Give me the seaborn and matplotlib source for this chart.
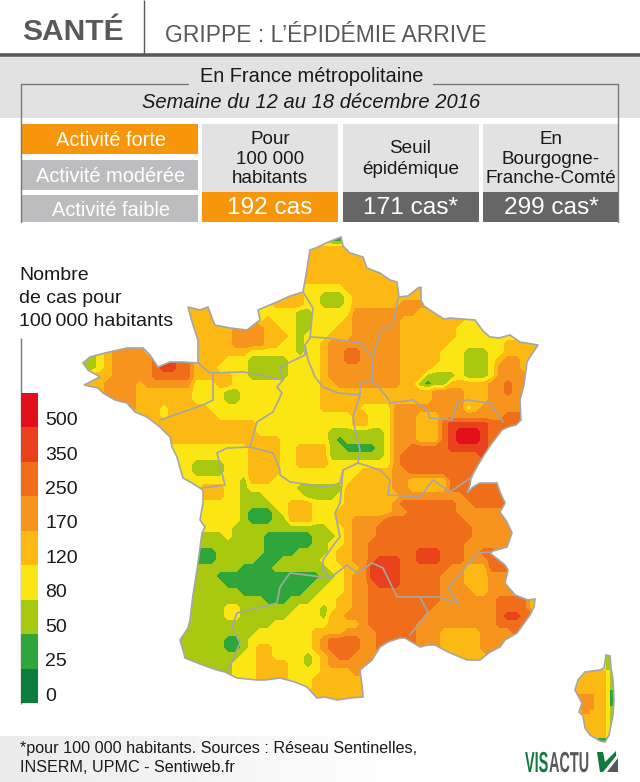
import numpy as np
import matplotlib
matplotlib.use('Agg')
import matplotlib.pyplot as plt
from matplotlib.colors import ListedColormap
from matplotlib.patches import Rectangle, Polygon
from matplotlib.patheffects import AbstractPathEffect
from matplotlib.transforms import Affine2D
import seaborn as sns

# classes du plus faible (0) au plus fort (8)
CLASS_COLORS = ['#0b7d3e', '#2fa63c', '#a8c90f', '#fbe512', '#fdb913',
                '#f7941d', '#f06e19', '#e8411c', '#e3101c']
LEGEND_LABELS = ['500', '350', '250', '170', '120', '80', '50', '25', '0']
LEGEND_TITLE = ['Nombre', 'de cas pour', '100\u2009000 habitants']

ACTIVITY_LABELS = ['Activité forte', 'Activité modérée', 'Activité faible']
ACTIVITY_COLORS = ['#f7960a', '#bdbdbf', '#bdbdbf']
BOX_HEADERS = ['Pour\n100 000\nhabitants', 'Seuil\népidémique', 'En\nBourgogne-\nFranche-Comté']
BOX_VALUES = ['192 cas', '171 cas*', '299 cas*']
BOX_COLORS = ['#f7960a', '#666666', '#666666']

# carte : symbole + longueur de la suite, une ligne par rangée
MAP_ROWS = [
    ".29 22 12",
    ".29 45",
    ".29 47",
    ".29 47",
    ".28 410",
    ".28 412",
    ".28 35 47 .2 41",
    ".27 41 32 23 31 49",
    ".14 42 .9 43 32 23 31 46 53",
    ".14 42 .6 35 22 35 58 42",
    ".14 43 .6 41 33 22 34 41 56 47",
    ".15 44 54 42 32 22 33 42 56 47 33",
    ".15 44 54 43 31 21 33 43 56 47 37",
    ".15 44 54 42 32 21 32 41 59 46 37 44",
    ".5 53 41 .6 46 36 21 32 41 52 62 55 45 33 23 32 43",
    ".1 21 31 41 55 61 .5 43 33 25 34 41 52 62 55 45 33 23 31 41 52 41",
    ".1 21 31 41 55 61 72 62 43 34 25 34 41 59 44 34 23 31 53 41",
    ".1 43 55 65 45 32 25 34 41 59 43 24 31 23 31 54",
    ".2 41 54 41 56 33 42 311 42 58 42 21 11 22 45 52 61 51",
    ".3 54 47 34 22 310 414 54 43 52 61 51",
    ".5 52 47 34 22 310 414 54 43 54",
    ".7 43 31 45 314 45 34 59 31 41 55",
    ".9 41 31 46 317 42 33 53 43 58 62",
    ".10 412 312 42 33 53 43 61 75 63",
    ".11 411 39 27 31 53 43 61 71 83 71 62",
    ".12 413 36 21 11 25 31 53 43 61 71 83 71 61",
    ".12 39 44 32 44 22 14 21 31 52 65 75",
    ".12 39 44 32 44 27 31 51 610",
    ".13 31 24 33 44 32 44 38 51 610",
    ".13 31 24 33 44 310 44 52 69",
    ".14 36 21 43 310 45 52 45 63 .1 63",
    ".15 43 32 21 36 26 46 52 45 63 .1 63",
    ".15 43 32 23 34 31 24 31 47 58 65",
    ".15 35 24 32 43 34 46 51 67 52 64",
    ".15 35 21 13 21 31 43 33 47 52 66 56",
    ".15 35 21 13 22 43 33 42 54 610 55",
    ".15 34 212 32 41 53 612 55",
    ".15 23 31 24 16 23 31 41 53 612 55",
    ".15 28 16 22 32 41 52 612 56",
    ".15 12 26 14 24 31 42 52 66 73 63 52 62",
    ".15 12 25 13 25 32 42 52 61 73 62 73 63 53 62",
    ".15 25 14 27 32 42 51 74 66 52 43 63",
    ".15 22 113 22 31 41 52 74 65 53 43 53",
    ".15 23 111 22 32 41 52 61 73 65 53 43 53",
    ".15 25 18 22 33 41 52 69 54 42 53",
    ".14 29 13 23 33 42 52 69 57 64 41",
    ".14 24 32 27 33 21 31 42 52 68 58 64",
    ".14 24 32 26 34 21 42 53 67 59 61 72 61",
    ".13 211 37 44 51 66 510 63",
    ".13 29 37 44 54 65 53 45 54",
    ".13 25 12 21 38 41 51 64 52 61 .3 61 53 45 53",
    ".13 25 12 21 31 42 35 41 51 64 52 .6 52 45 52",
    ".14 26 32 42 34 21 31 41 51 62 53 .10 44",
    ".16 23 33 44 32 21 31 41 55 .13 41",
    ".18 21 33 44 34 44 52",
    ".22 44 33 47",
    ".29 47",
    ".30 46",
]

CORSICA_ROWS = [
    ".7 31 21", ".7 31 21", ".7 31 21", ".7 31 21",
    ".3 45 31 21", ".2 46 31 21", ".2 46 31 21", ".1 47 31 21",
    ".1 47 31 21", ".1 47 31 11", ".1 54 43 31 11", ".1 54 43 31 11",
    ".1 54 43 31 11", ".1 54 43 31 21", ".1 41 52 44 31 21", ".2 46 31 21",
    ".2 46 31 21", ".2 46 31 21", ".3 45 31 21", ".3 45 31",
    ".3 31 44 31", ".5 21 12",
]

# contours relevés en pixels sur l'image
FRANCE_COAST = [
    (318, 247), (326, 243), (341, 237), (343, 246), (350, 253), (363, 257), (367, 268), (380, 273),
    (390, 280), (397, 282), (399, 297), (408, 296), (418, 288), (421, 287), (421, 300), (424, 306),
    (436, 314), (444, 319), (450, 318), (462, 319), (475, 320), (483, 331), (490, 337), (499, 338),
    (510, 335), (520, 342), (538, 345), (530, 357), (527, 362), (524, 385), (520, 400), (521, 420),
    (516, 425), (508, 427), (502, 430), (492, 443), (484, 455), (478, 465), (471, 478), (470, 485),
    (467, 493), (473, 487), (480, 483), (497, 483), (500, 492), (505, 503), (500, 512), (507, 522),
    (512, 533), (507, 547), (493, 551), (490, 553), (505, 565), (508, 570), (505, 583), (515, 595),
    (528, 600), (535, 599), (534, 607), (530, 615), (517, 633), (505, 640), (500, 647), (490, 652),
    (480, 660), (467, 660), (448, 652), (435, 645), (428, 645), (420, 647), (405, 638), (400, 638),
    (388, 642), (380, 647), (372, 660), (360, 670), (362, 685), (363, 697), (350, 698), (337, 700),
    (325, 697), (317, 698), (307, 687), (295, 682), (280, 678), (265, 680), (257, 680), (237, 678),
    (225, 672), (217, 670), (200, 664), (185, 658), (183, 650), (180, 640), (188, 628), (190, 620),
    (193, 595), (197, 570), (202, 533), (205, 527), (200, 520), (203, 503), (203, 490), (192, 483),
    (183, 478), (180, 468), (177, 457), (172, 447), (170, 437), (160, 427), (147, 417), (135, 412),
    (127, 403), (115, 400), (103, 393), (98, 388), (84, 385), (100, 377), (88, 370), (83, 363),
    (90, 357), (105, 353), (127, 348), (143, 348), (150, 355), (158, 367), (170, 362), (183, 362),
    (198, 363), (198, 340), (193, 325), (188, 307), (200, 310), (208, 307), (212, 318), (215, 325),
    (230, 328), (247, 330), (260, 320), (258, 310), (277, 302), (290, 296), (303, 292), (306, 275),
    (310, 250),
]
CORSICA_COAST = [
    (606, 655), (610, 656), (611, 668), (613, 680), (614, 700), (613, 715), (609, 735), (605, 742),
    (600, 741), (590, 735), (585, 728), (583, 716), (579, 712), (582, 703), (575, 690), (578, 680),
    (585, 672), (600, 670), (604, 668),
]
REGION_BORDERS = [
    [(198, 363), (210, 373), (243, 372), (260, 375), (283, 380), (280, 367), (305, 355), (305, 345), (310, 338), (313, 308), (303, 292)],
    [(213, 373), (213, 400), (203, 405), (180, 413), (160, 420)],
    [(283, 380), (277, 387), (282, 393), (273, 412), (257, 422), (250, 447), (227, 448), (217, 453), (223, 477), (225, 485), (203, 488)],
    [(250, 447), (273, 453), (280, 470), (280, 475), (290, 482), (327, 487), (340, 483), (343, 470), (358, 463), (360, 450), (355, 430), (353, 417), (360, 395)],
    [(305, 345), (308, 360), (315, 377), (323, 387), (338, 393), (360, 395), (360, 383), (372, 380), (373, 357), (360, 343), (327, 338), (310, 337)],
    [(373, 357), (380, 330), (393, 325), (398, 298)],
    [(372, 380), (387, 397), (390, 403), (413, 400), (427, 410), (430, 418), (452, 420), (457, 403), (467, 400), (490, 403), (503, 422)],
    [(358, 463), (380, 470), (390, 480), (388, 495), (420, 497), (433, 480), (450, 492), (472, 477)],
    [(343, 470), (340, 503), (335, 513), (340, 537), (335, 543), (323, 560), (323, 570), (330, 578)],
    [(330, 578), (347, 565), (357, 573), (372, 563), (383, 568), (397, 597), (420, 597), (428, 612), (410, 635)],
    [(420, 597), (438, 597), (458, 603), (448, 588), (463, 570), (478, 553), (490, 552)],
    [(330, 578), (290, 573), (280, 587), (277, 603), (237, 613), (232, 627), (240, 643), (228, 670)],
]
BORDER_COLOR = '#a6a6a6'


class StretchY(AbstractPathEffect):
    # étire le texte en hauteur autour de sa ligne de base (logo étroit)
    def __init__(self, y0, factor):
        super().__init__()
        self.y0 = y0
        self.factor = factor

    def draw_path(self, renderer, gc, tpath, affine, rgbFace=None):
        affine = affine + Affine2D().translate(0, -self.y0).scale(1, self.factor).translate(0, self.y0)
        renderer.draw_path(gc, tpath, affine, rgbFace)


def parse_rows(rows, n_cols):
    # "symbole + nombre" -> tableau de classes, NaN hors du territoire
    grid = np.full((len(rows), n_cols), np.nan)
    for i, row in enumerate(rows):
        col = 0
        for token in row.split():
            n = int(token[1:])
            if token[0] != '.':
                grid[i, col:col + n] = int(token[0])
            col += n
    return grid


def fill_outside(grid):
    # hors du territoire on recopie la cellule la plus proche, le contour masque ensuite ces zones
    filled = grid.copy()
    ii, jj = np.nonzero(~np.isnan(grid))
    for i, j in zip(*np.nonzero(np.isnan(grid))):
        k = np.argmin((ii - i) ** 2 + (jj - j) ** 2)
        filled[i, j] = grid[ii[k], jj[k]]
    return filled


def add_axes_px(fig, x, y, w, h):
    return fig.add_axes([x / 640, 1 - (y + h) / 782, w / 640, h / 782])


def add_coast(ax, coast, x0, y0, cell):
    points = [((x - x0) / cell, (y - y0) / cell) for x, y in coast]
    patch = Polygon(points, closed=True, facecolor='none', edgecolor=BORDER_COLOR, lw=1.2, clip_on=False, zorder=5)
    ax.add_patch(patch)
    return patch


sns.set_theme(style='white')
plt.rcParams['font.family'] = ['Liberation Sans', 'DejaVu Sans']
class_cmap = ListedColormap(CLASS_COLORS)

fig = plt.figure(figsize=(6.4, 7.82), dpi=100)

# fond et textes, en pixels de l'image
bg = fig.add_axes([0, 0, 1, 1])
bg.add_patch(Rectangle((0, 57), 640, 61, color='#e2e2e2', lw=0))
fade = np.linspace(0.92, 1.0, 64).reshape(1, -1)
bg.imshow(fade, extent=[0, 420, 782, 736], cmap='gray', vmin=0, vmax=1, aspect='auto')
bg.set_xlim(0, 640)
bg.set_ylim(782, 0)
bg.axis('off')

bg.hlines(54.5, 0, 640, color='#58595b', lw=2.6)
bg.vlines(144, 0, 54, color='#58595b', lw=1)
bg.text(22, 32, 'SANTÉ', fontsize=21.5, fontweight='bold', color='#58595b', va='center')
bg.text(165, 35, 'GRIPPE : L’ÉPIDÉMIE ARRIVE', fontsize=16.5, color='#58595b', va='center')

bg.plot([21, 21, 188], [222, 84, 84], color='#77787b', lw=1)
bg.plot([433, 618, 618], [84, 84, 222], color='#77787b', lw=1)
bg.text(312, 77, 'En France métropolitaine', fontsize=14.4, color='#1a1a1a', ha='center', va='center')
bg.text(311, 103, 'Semaine du 12 au 18 décembre 2016', fontsize=14.5, style='italic', color='#1a1a1a', ha='center', va='center')

for i, label in enumerate(ACTIVITY_LABELS):
    top = [124, 160, 195][i]
    height = [30, 30, 27][i]
    bg.add_patch(Rectangle((21, top), 177, height, color=ACTIVITY_COLORS[i], lw=0))
    bg.text(111, top + height / 2 + 2, label, fontsize=14.4, color='white', ha='center', va='center')

for i, header in enumerate(BOX_HEADERS):
    left = 202 + i * 140.5
    spacing = 1.35 if i == 1 else 1.18
    bg.add_patch(Rectangle((left, 124), 136, 68, color='#e2e2e2', lw=0))
    bg.add_patch(Rectangle((left, 192), 136, 30, color=BOX_COLORS[i], lw=0))
    bg.text(left + 68, 159, header, fontsize=13.6, color='#1a1a1a', ha='center', va='center', linespacing=spacing)
    bg.text(left + 68, 208, BOX_VALUES[i], fontsize=17.6, color='white', ha='center', va='center')

for i, line in enumerate(LEGEND_TITLE):
    bg.text(19, 275 + i * 23.5, line, fontsize=14, color='#1a1a1a', va='center')
bg.vlines(20.5, 338, 704, color='#77787b', lw=1)

bg.text(20, 749, '*pour 100 000 habitants. Sources : Réseau Sentinelles,', fontsize=11.6, color='#1a1a1a', va='center')
bg.text(20, 768, 'INSERM, UPMC - Sentiweb.fr', fontsize=11.6, color='#1a1a1a', va='center')

# logo : 10 px au-dessus du bas de l'image, étiré en hauteur
bg.text(525, 772, 'VIS', fontsize=10.4, fontweight='bold', color='#0f7a3c', va='baseline',
        path_effects=[StretchY(10, 2.0)])
bg.text(549, 772, 'ACTU', fontsize=10.4, fontweight='bold', color='#58595b', va='baseline',
        path_effects=[StretchY(10, 2.0)])
bg.add_patch(Polygon([(597, 752), (603, 752), (605, 762), (616, 751), (616, 756), (603, 772), (600, 772)], color='#0f7a3c', lw=0))
bg.add_patch(Polygon([(607, 772), (618, 758), (618, 772)], color='#58595b', lw=0))

# légende : une colonne de cellules, de la classe forte à la faible
legend_ax = add_axes_px(fig, 21, 393, 17, 310)
legend_values = np.arange(len(LEGEND_LABELS))[::-1].reshape(-1, 1)
sns.heatmap(legend_values, ax=legend_ax, cmap=class_cmap, vmin=-0.5, vmax=8.5, cbar=False,
            xticklabels=False, yticklabels=False, linewidths=0)
legend_ax.axis('off')
for i, label in enumerate(LEGEND_LABELS):
    legend_ax.text(1.42, i + 0.8, label, fontsize=14, color='#1a1a1a', va='center', clip_on=False)

# carte principale : cellules de 8 px, puis limites de classes lissées par contourf
N_COLS = 58
map_grid = fill_outside(parse_rows(MAP_ROWS, N_COLS))
map_ax = add_axes_px(fig, 80, 236, N_COLS * 8, len(MAP_ROWS) * 8)
sns.heatmap(map_grid, ax=map_ax, cmap=class_cmap, vmin=-0.5, vmax=8.5, cbar=False,
            xticklabels=False, yticklabels=False, linewidths=0)
base_mesh = map_ax.collections[0]
cols = np.arange(N_COLS) + 0.5
rows = np.arange(len(MAP_ROWS)) + 0.5
smooth = map_ax.contourf(cols, rows, map_grid, levels=np.arange(-0.5, 9), cmap=class_cmap)
map_ax.axis('off')
coast = add_coast(map_ax, FRANCE_COAST, 80, 236, 8)
base_mesh.set_clip_path(coast)
smooth.set_clip_path(coast)
for border in REGION_BORDERS:
    xs = [(p[0] - 80) / 8 for p in border]
    ys = [(p[1] - 236) / 8 for p in border]
    map_ax.plot(xs, ys, color=BORDER_COLOR, lw=1.2)

# Corse, cellules de 4 px
corsica_grid = fill_outside(parse_rows(CORSICA_ROWS, 11))
corsica_ax = add_axes_px(fig, 574, 654, 44, len(CORSICA_ROWS) * 4)
sns.heatmap(corsica_grid, ax=corsica_ax, cmap=class_cmap, vmin=-0.5, vmax=8.5, cbar=False,
            xticklabels=False, yticklabels=False, linewidths=0)
corsica_ax.axis('off')
corsica_ax.collections[0].set_clip_path(add_coast(corsica_ax, CORSICA_COAST, 574, 654, 4))

fig.savefig('out.png', dpi=100)
